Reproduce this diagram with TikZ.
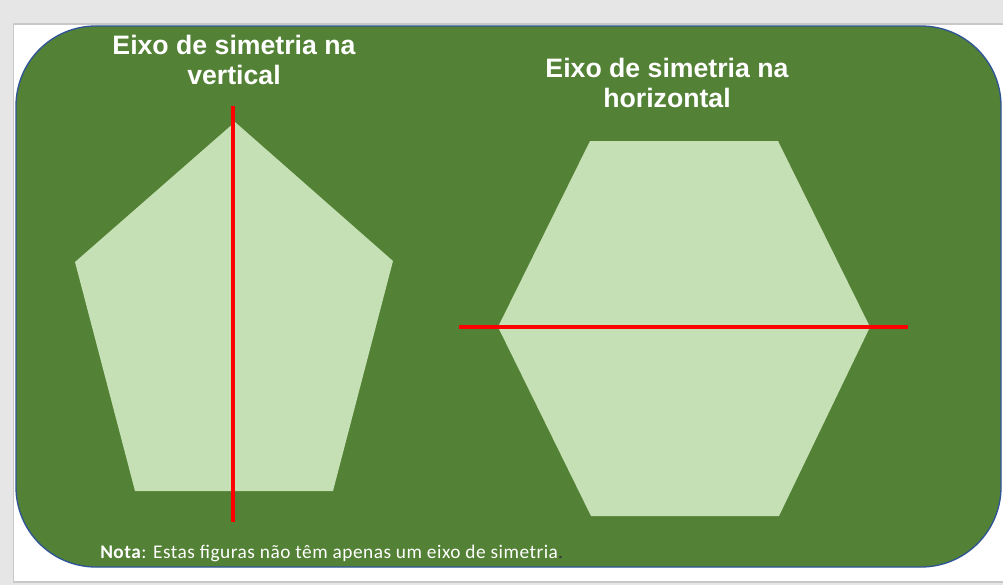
\documentclass[tikz,border=0pt]{standalone}
\usepackage{fontspec}
\setmainfont{Liberation Sans}
\newfontfamily\notefont[LetterSpace=2.6]{Carlito}
\definecolor{bggray}{HTML}{E6E6E6}
\definecolor{panelline}{HTML}{C8C8C8}
\definecolor{boxgreen}{HTML}{538135}
\definecolor{boxedge}{HTML}{2F5597}
\definecolor{shapegreen}{HTML}{C5E0B4}
\tikzset{
  titletext/.style={text=white, font=\fontsize{20}{23}\selectfont\bfseries, align=center, inner sep=0pt},
  notetext/.style={text=white, font=\notefont\fontsize{14.5}{16}\selectfont, anchor=base west, inner sep=0pt},
  figfill/.style={fill=shapegreen, draw=none},
  axisline/.style={draw=red, line width=3pt}
}
\begin{document}
\begin{tikzpicture}[x=0.75pt,y=-0.75pt]
\useasboundingbox (0,0) rectangle (1003,585);
\fill[bggray] (0,0) rectangle (1003,585);
\filldraw[fill=white, draw=panelline, line width=0.8pt] (13.5,24) rectangle (1010,582);
\filldraw[fill=boxgreen, draw=boxedge, line width=1pt, rounded corners=60pt] (16,26) rectangle (1001,567);
% pentagon
\fill[figfill] (235,122) -- (393,261) -- (333,491) -- (135,491) -- (75,262) -- cycle;
\coordinate (vtop) at (233,106);
\coordinate (vbot) at (233,522);
\draw[axisline] (vtop) -- (vbot);
% hexagon
\fill[figfill] (590,141) -- (778,141) -- (870,327) -- (779,516) -- (591,516) -- (498,327) -- cycle;
\coordinate (hleft) at (459,327);
\coordinate (hright) at (908,327);
\draw[axisline] (hleft) -- (hright);
% titles
\node[titletext] (t1) at (234,60) {Eixo de simetria na\\vertical};
\node[titletext] (t2) at (667,83) {Eixo de simetria na\\horizontal};
\node[notetext] (note) at (100,558) {\textbf{Nota}: Estas figuras não têm apenas um eixo de simetria\textcolor{black!80}{.}};
\end{tikzpicture}
\end{document}
